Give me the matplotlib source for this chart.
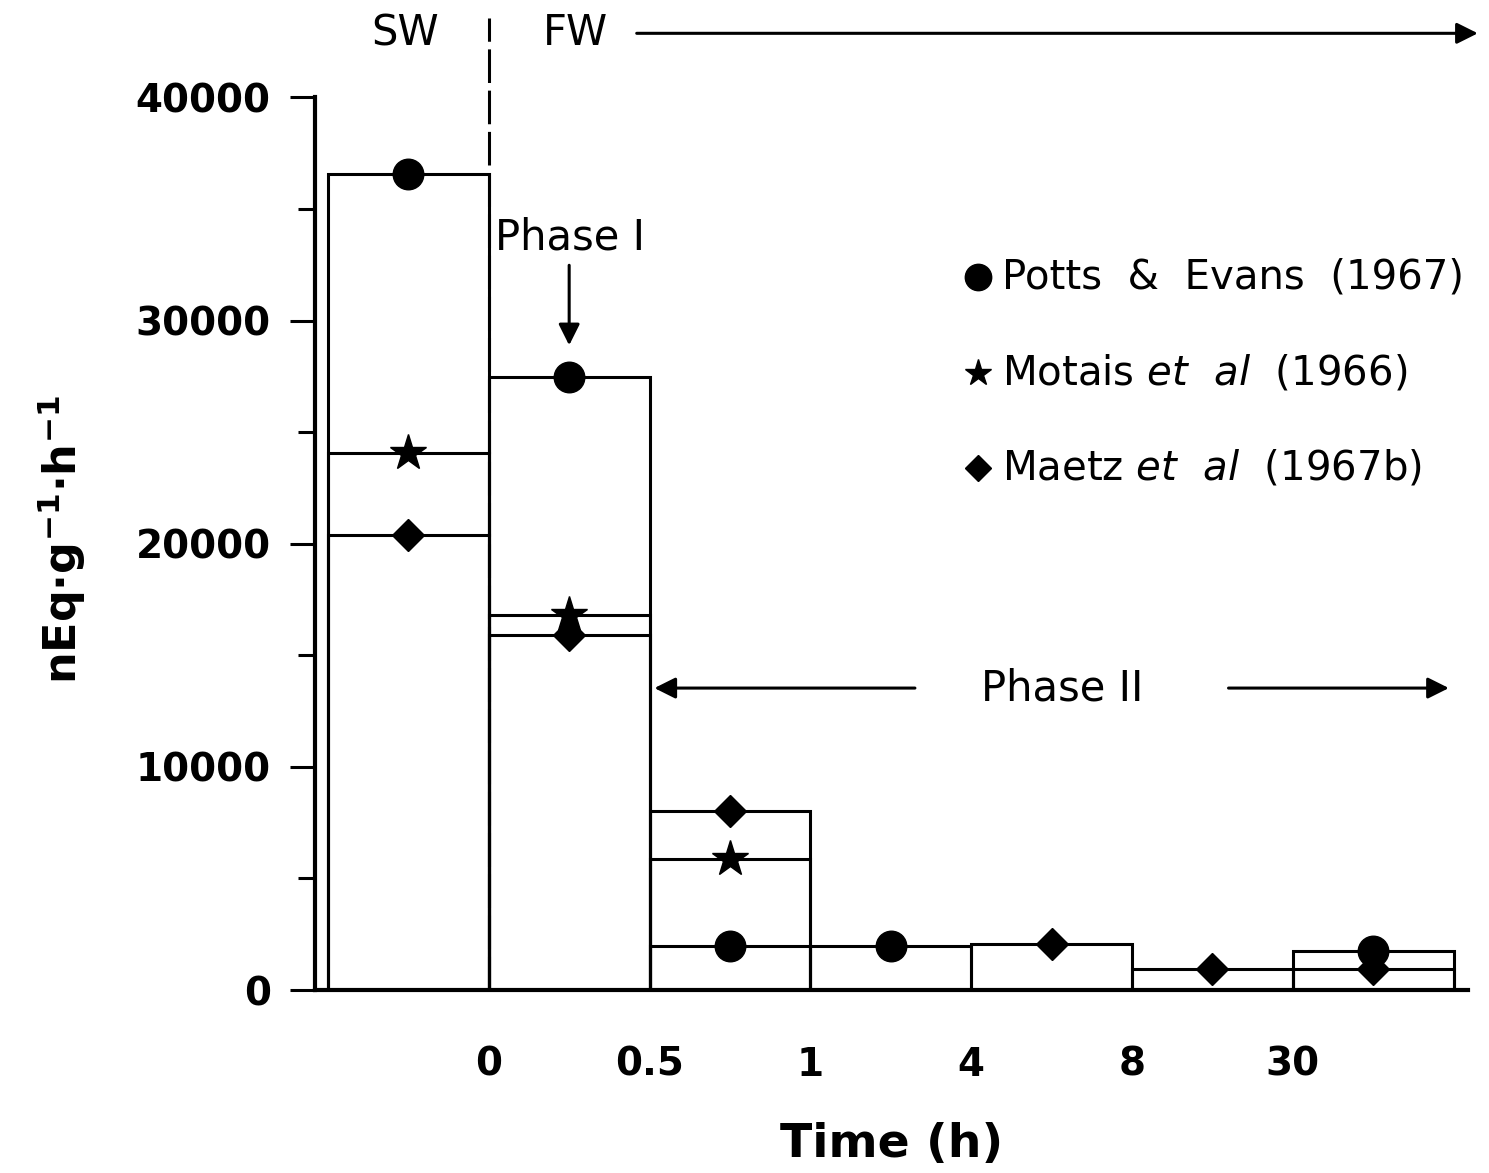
import numpy as np
import matplotlib

matplotlib.use("Agg")
import matplotlib.pyplot as plt  # noqa: E402

plt.rcParams.update({"font.family": "DejaVu Sans", "mathtext.fontset": "dejavusans"})

# one bin per time interval; first bin is the sea-water control
tick_labels = ["0", "0.5", "1", "4", "8", "30"]
potts = [36550, 27450, 1950, 1950, np.nan, np.nan, 1750]
motais = [24050, 16800, 5850, np.nan, np.nan, np.nan, np.nan]
maetz = [20400, 15900, 8000, np.nan, 2050, 950, 950]

series = [
    ("Potts  &  Evans  (1967)", potts, "o", 22),
    (r"Motais $\mathit{et\ \ al}$  (1966)", motais, "*", 27),
    (r"Maetz $\mathit{et\ \ al}$  (1967b)", maetz, "D", 16),
]

LW = 2.2
fig = plt.figure(figsize=(14.89, 11.73), dpi=100)
ax = fig.add_axes([0.2116, 0.156, 0.7744, 0.761])

nb = len(potts)
centres = np.arange(nb) + 0.5
for _, vals, mk, ms in series:
    v = np.array(vals, dtype=float)
    ok = ~np.isnan(v)
    ax.bar(centres[ok], v[ok], width=1.0, fill=False, edgecolor="black", lw=LW, zorder=2)
for _, vals, mk, ms in series:
    ax.plot(centres, vals, ls="none", marker=mk, ms=ms, color="black", zorder=4)

ax.set_xlim(-0.08, 7.09)
ax.set_ylim(0, 40000)
ax.set_xticks(np.arange(1, nb))
ax.set_xticklabels(tick_labels)
ax.set_yticks(np.arange(0, 40001, 10000))
ax.set_yticks(np.arange(5000, 40000, 10000), minor=True)
ax.tick_params(axis="x", length=0, pad=40, labelsize=28)
ax.tick_params(axis="y", which="major", length=18, width=2.2, pad=14, labelsize=28)
ax.tick_params(axis="y", which="minor", length=12, width=2.2)
for t in ax.get_xticklabels() + ax.get_yticklabels():
    t.set_fontweight("bold")
for s in ("top", "right"):
    ax.spines[s].set_visible(False)
for s in ("left", "bottom"):
    ax.spines[s].set_linewidth(3)

ax.set_xlabel("Time (h)", fontsize=34, fontweight="bold", labelpad=28)
ax.set_ylabel(r"$\mathbf{nEq{\cdot}g^{-1}{\cdot}h^{-1}}$", fontsize=32)
ax.yaxis.set_label_coords(-0.197, 0.504)

# SW / FW header
ax.plot([1, 1], [0, 43540], ls=(0, (11, 2.5)), color="black", lw=LW, clip_on=False, zorder=3)
ax.text(0.48, 42870, "SW", fontsize=30, ha="center", va="center", clip_on=False)
ax.text(1.54, 42870, "FW", fontsize=30, ha="center", va="center", clip_on=False)
arrow = dict(arrowstyle="-|>", lw=2.2, color="black", mutation_scale=32, shrinkA=0, shrinkB=0)
ax.annotate("", xy=(7.15, 42870), xytext=(1.92, 42870), arrowprops=arrow, annotation_clip=False)

# phase annotations
ax.text(1.505, 33730, "Phase I", fontsize=30, ha="center", va="center")
ax.annotate("", xy=(1.5, 28890), xytext=(1.5, 32475), arrowprops=arrow)
ax.text(4.565, 13530, "Phase II", fontsize=30, ha="center", va="center")
ax.annotate("", xy=(2.03, 13530), xytext=(3.65, 13530), arrowprops=arrow)
ax.annotate("", xy=(6.97, 13530), xytext=(5.6, 13530), arrowprops=arrow)

# hand-made legend
leg_y = [31940, 27640, 23380]
leg_ms = [19, 20, 13]
for (label, _, mk, _), y, ms in zip(series, leg_y, leg_ms):
    ax.plot([4.04], [y], ls="none", marker=mk, ms=ms, color="black")
    ax.text(4.19, y, label, fontsize=29, ha="left", va="center")

fig.savefig("out.png", dpi=100)
